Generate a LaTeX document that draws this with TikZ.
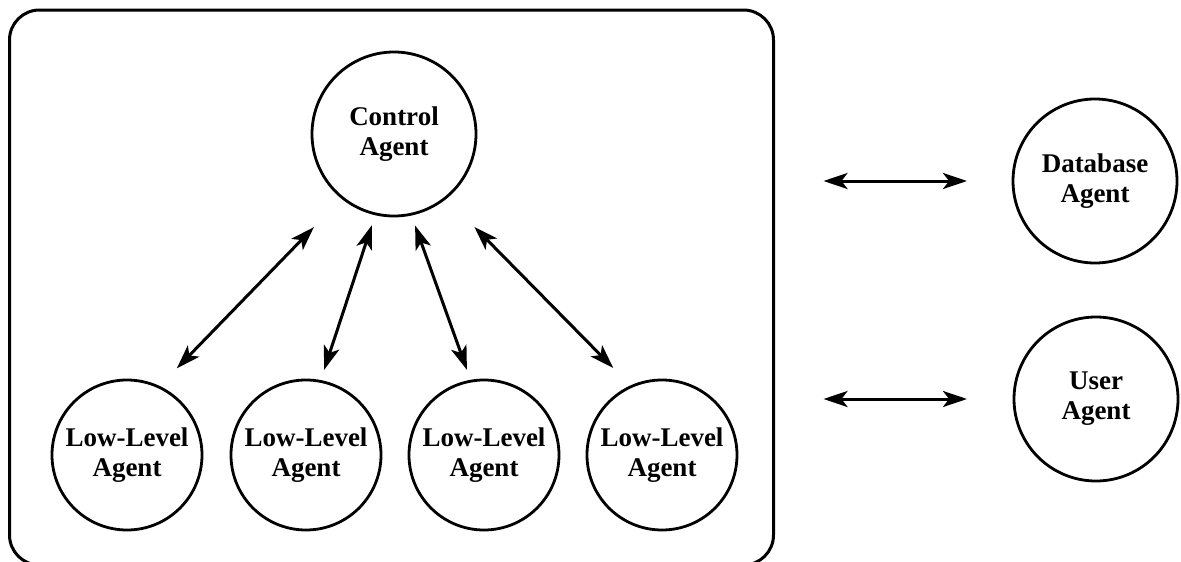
\documentclass[tikz,border=0pt]{standalone}
\usepackage{fontspec}
\setmainfont{Liberation Serif}
\usetikzlibrary{arrows.meta}
\begin{document}
\begin{tikzpicture}[x=1pt,y=-1pt,
  agent/.style={circle,draw,line width=2.8pt,inner sep=0pt,outer sep=0pt,
    align=center,font=\fontsize{27}{30}\selectfont\bfseries},
  bigagent/.style={agent,minimum size=164pt},
  lowagent/.style={agent,minimum size=150pt},
  biarrow/.style={line width=3pt,{Stealth[length=24pt,width=16pt,inset=6pt]}-{Stealth[length=24pt,width=16pt,inset=6pt]}},
  frame/.style={draw,line width=3pt,rounded corners=30pt,inner sep=0pt,outer sep=0pt,
    minimum width=764pt,minimum height=555pt}]
\useasboundingbox (0,0) rectangle (1181,562);
\node[frame] (box) at (391.5,287.5) {};
\node[bigagent] (ctrl) at (394,134) {Control\\Agent};
\node[lowagent] (l1) at (127,455) {Low-Level\\Agent};
\node[lowagent] (l2) at (306,455) {Low-Level\\Agent};
\node[lowagent] (l3) at (484,455) {Low-Level\\Agent};
\node[lowagent] (l4) at (662,455) {Low-Level\\Agent};
\node[bigagent] (db) at (1095,181) {Database\\Agent};
\node[bigagent] (user) at (1096,399) {User\\Agent};
\draw[biarrow,shorten <=26pt,shorten >=41pt] (l1.65.7) -- (ctrl.231);
\draw[biarrow,shorten <=12pt,shorten >=12pt] (l2.79.1) -- (ctrl.257.1);
\draw[biarrow,shorten <=12pt,shorten >=12pt] (l3.100.9) -- (ctrl.282.9);
\draw[biarrow,shorten <=26pt,shorten >=41pt] (l4.114.3) -- (ctrl.309);
\draw[biarrow,shorten <=50pt,shorten >=46pt] (box.east |- db) -- (db.west);
\draw[biarrow,shorten <=50pt,shorten >=47pt] (box.east |- user) -- (user.west);
\end{tikzpicture}
\end{document}
